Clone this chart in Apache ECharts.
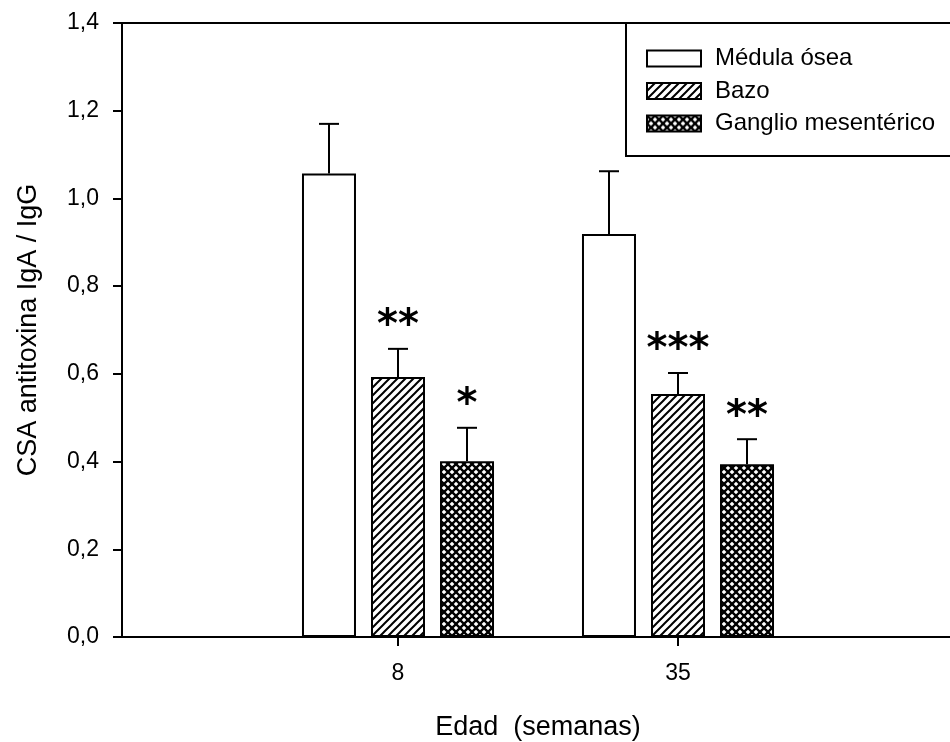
<!DOCTYPE html>
<html>
<head>
<meta charset="utf-8">
<script src="https://cdn.jsdelivr.net/npm/echarts@6/dist/echarts.min.js"></script>
<style>
  html, body { margin: 0; padding: 0; background: #fff; }
  #chart { width: 950px; height: 742px; }
</style>
</head>
<body>
<div id="chart"></div>
<script>
// Age groups (weeks)
const categories = ['8', '35'];

// IgA / IgG ratio of anti-toxin antibody-secreting cells, mean and +SE
const medulaMean = [1.057, 0.919];
const medulaErr = [0.113, 0.143];
const bazoMean = [0.593, 0.554];
const bazoErr = [0.064, 0.048];
const gangMean = [0.401, 0.394];
const gangErr = [0.076, 0.057];

// Significance marks above each bar
const medulaStars = ['', ''];
const bazoStars = ['**', '***'];
const gangStars = ['*', '**'];

const seriesNames = ['Médula ósea', 'Bazo', 'Ganglio mesentérico'];

// Y axis range
const Y_MIN = 0, Y_MAX = 1.4, Y_STEP = 0.2;

// Layout constants
const BAR_W = 54;
const BAR_SPACE = 15;
const FONT = 'Liberation Sans, Arial, sans-serif';

// Fill patterns
function makePattern(cross) {
  const s = 8;
  const c = document.createElement('canvas');
  c.width = s; c.height = s;
  const g = c.getContext('2d');
  g.fillStyle = '#fff';
  g.fillRect(0, 0, s, s);
  g.strokeStyle = '#000';
  g.lineWidth = cross ? 2.3 : 2;
  g.lineCap = 'square';
  const seg = (x1, y1, x2, y2) => { g.beginPath(); g.moveTo(x1, y1); g.lineTo(x2, y2); g.stroke(); };
  // "/" direction
  seg(-1, 1, 1, -1); seg(0, s, s, 0); seg(s - 1, s + 1, s + 1, s - 1);
  if (cross) {
    // "\" direction
    seg(-1, -1, s + 1, s + 1); seg(-1, s - 1, 1, s + 1); seg(s - 1, -1, s + 1, 1);
  }
  return { image: c, repeat: 'repeat' };
}

const fills = ['#fff', makePattern(false), makePattern(true)];
const means = [medulaMean, bazoMean, gangMean];
const errs = [medulaErr, bazoErr, gangErr];
const stars = [medulaStars, bazoStars, gangStars];

const barSeries = seriesNames.map((name, k) => ({
  name,
  type: 'bar',
  xAxisIndex: 2,
  yAxisIndex: 1,
  barWidth: BAR_W,
  barGap: (BAR_SPACE / BAR_W * 100).toFixed(1) + '%',
  itemStyle: { color: fills[k], borderColor: '#000', borderWidth: 2 },
  emphasis: { disabled: true },
  data: means[k],
  z: 2
}));

const errSeries = seriesNames.map((name, k) => ({
  type: 'custom',
  xAxisIndex: 2,
  yAxisIndex: 1,
  z: 5,
  silent: true,
  data: means[k].map((v, i) => [i, v, v + errs[k][i]]),
  encode: { x: 0, y: [1, 2] },
  renderItem(params, api) {
    const i = api.value(0);
    const base = api.coord([i, api.value(1)]);
    const top = api.coord([i, api.value(2)]);
    const x = base[0] + (k - 1) * (BAR_W + BAR_SPACE);
    const children = [
      { type: 'line', shape: { x1: x, y1: base[1], x2: x, y2: top[1] }, style: { stroke: '#000', lineWidth: 2 } },
      { type: 'line', shape: { x1: x - 10, y1: top[1], x2: x + 10, y2: top[1] }, style: { stroke: '#000', lineWidth: 2 } }
    ];
    const mark = stars[k][params.dataIndex];
    if (mark) {
      children.push({
        type: 'text',
        x: x,
        y: top[1] - 2,
        style: {
          text: mark,
          fontSize: 40,
          fontWeight: 'bold',
          fontFamily: 'DejaVu Sans',
          fill: '#000',
          align: 'center',
          verticalAlign: 'bottom'
        }
      });
    }
    return { type: 'group', children };
  }
}));

const chart = echarts.init(document.getElementById('chart'), null, { renderer: 'canvas' });

chart.setOption({
  backgroundColor: '#fff',
  animation: false,
  legend: {
    data: seriesNames,
    orient: 'vertical',
    left: 626,
    top: 23,
    padding: [23.5, 40, 20.5, 20],
    itemWidth: 54,
    itemHeight: 16,
    itemGap: 8.5,
    icon: 'rect',
    selectedMode: false,
    borderColor: '#000',
    borderWidth: 2,
    backgroundColor: '#fff',
    textStyle: { fontSize: 24, lineHeight: 23, color: '#000', fontFamily: FONT, padding: [0, 0, 0, 9] }
  },
  grid: [
    { left: 122, right: -20, top: 23, bottom: 105, outerBoundsMode: 'none', containLabel: false },
    { left: 258, right: 132, top: 23, bottom: 105, outerBoundsMode: 'none', containLabel: false }
  ],
  xAxis: [
    {
      type: 'value', gridIndex: 0, min: 0, max: 1,
      axisLine: { show: true, lineStyle: { color: '#000', width: 2 } },
      axisTick: { show: false }, axisLabel: { show: false }, splitLine: { show: false }
    },
    {
      type: 'value', gridIndex: 0, min: 0, max: 1, position: 'top',
      axisLine: { show: true, lineStyle: { color: '#000', width: 2 } },
      axisTick: { show: false }, axisLabel: { show: false }, splitLine: { show: false }
    },
    {
      type: 'category', gridIndex: 1, data: categories,
      axisLine: { show: false },
      axisTick: { show: true, alignWithLabel: true, length: 9, lineStyle: { color: '#000', width: 2 } },
      axisLabel: { fontSize: 23, color: '#000', fontFamily: FONT, margin: 25 },
      name: 'Edad  (semanas)',
      nameLocation: 'middle',
      nameGap: 77,
      nameTextStyle: { fontSize: 27, color: '#000', fontFamily: FONT }
    }
  ],
  yAxis: [
    {
      type: 'value', gridIndex: 0, min: Y_MIN, max: Y_MAX, interval: Y_STEP,
      axisLine: { show: true, lineStyle: { color: '#000', width: 2 } },
      axisTick: { show: true, length: 9, lineStyle: { color: '#000', width: 2 } },
      axisLabel: {
        fontSize: 23, color: '#000', fontFamily: FONT, margin: 23,
        formatter: v => v.toFixed(1).replace('.', ',')
      },
      splitLine: { show: false },
      name: 'CSA antitoxina IgA / IgG',
      nameLocation: 'middle',
      nameGap: 80,
      nameTextStyle: { fontSize: 27, color: '#000', fontFamily: FONT }
    },
    {
      type: 'value', gridIndex: 1, min: Y_MIN, max: Y_MAX, interval: Y_STEP, show: false
    }
  ],
  series: [...barSeries, ...errSeries]
});
</script>
</body>
</html>
